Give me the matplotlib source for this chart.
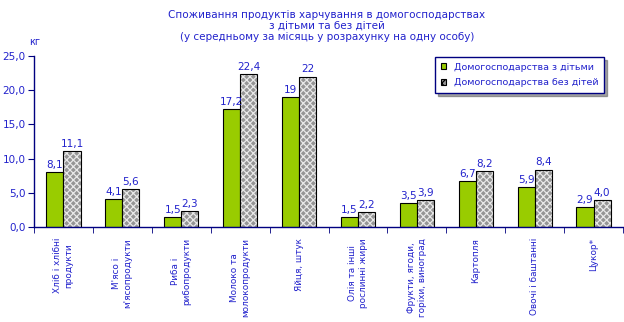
import numpy as np
import matplotlib
matplotlib.use("Agg")
import matplotlib.pyplot as plt
from matplotlib.patches import Patch

categories = ["Хліб і хлібні\nпродукти", "М'ясо і\nм'ясопродукти", "Риба і\nрибопродукти",
              "Молоко та\nмолокопродукти", "Яйця, штук", "Олія та інші\nрослинні жири",
              "Фрукти, ягоди,\nгоріхи, виноград", "Картопля", "Овочі і баштанні", "Цукор*"]
with_kids = [8.1, 4.1, 1.5, 17.2, 19, 1.5, 3.5, 6.7, 5.9, 2.9]
without_kids = [11.1, 5.6, 2.3, 22.4, 22, 2.2, 3.9, 8.2, 8.4, 4.0]
labels_with = ["8,1", "4,1", "1,5", "17,2", "19", "1,5", "3,5", "6,7", "5,9", "2,9"]
labels_without = ["11,1", "5,6", "2,3", "22,4", "22", "2,2", "3,9", "8,2", "8,4", "4,0"]
yticks = [0, 5, 10, 15, 20, 25]
ytick_labels = ["0,0", "5,0", "10,0", "15,0", "20,0", "25,0"]

blue = "#2222CC"
navy = "#000080"
plt.rcParams['font.family'] = ['DejaVu Sans']
plt.rcParams['hatch.linewidth'] = 0.9

fig = plt.figure(figsize=(6.24, 3.22), dpi=100)
ax = fig.add_axes([34/624, 1-227/322, 589/624, 171/322])

x = np.arange(len(categories))
w = 0.29
ax.bar(x - w/2, with_kids, w, color="#99CC00", edgecolor="black", linewidth=0.8, zorder=2)
# hatched bars: white hatch on grey, then black outline on top
ax.bar(x + w/2, without_kids, w, color="#959595", edgecolor="#e8e8e8", hatch="xxxxx",
       linewidth=0, zorder=2)
ax.bar(x + w/2, without_kids, w, fill=False, edgecolor="black", linewidth=0.8, zorder=3)

for i in range(len(x)):
    ax.text(x[i] - w/2, with_kids[i] + 0.3, labels_with[i], ha="center", va="bottom",
            color=blue, fontsize=7.5)
    ax.text(x[i] + w/2, without_kids[i] + 0.3, labels_without[i], ha="center", va="bottom",
            color=blue, fontsize=7.5)

ax.set_xlim(-0.5, len(x) - 0.5)
ax.set_ylim(0, 25)
ax.set_yticks(yticks, labels=ytick_labels)
ax.set_xticks(x, labels=categories, rotation=90, va="top", ha="center",
              multialignment="center", linespacing=1.3)
ax.set_xticks(np.arange(len(x) + 1) - 0.5, minor=True)
ax.tick_params(axis="x", which="major", length=0, pad=8, labelsize=6.4, labelcolor=blue)
ax.tick_params(axis="x", which="minor", length=4, color=navy, direction="out")
ax.tick_params(axis="y", length=4, color=navy, labelsize=7.5, labelcolor=blue, pad=2)

for s in ["top", "right"]:
    ax.spines[s].set_visible(False)
for s in ["left", "bottom"]:
    ax.spines[s].set_color(navy)
    ax.spines[s].set_linewidth(1)

fig.text(35/624, 1-42/322, "кг", color=blue, fontsize=7, ha="center", va="center")
fig.text(327/624, 1-26/322,
         "Споживання продуктів харчування в домогосподарствах\nз дітьми та без дітей\n"
         "(у середньому за місяць у розрахунку на одну особу)",
         color=blue, fontsize=7.5, ha="center", va="center", linespacing=1.15)

handles = [Patch(facecolor="#99CC00", edgecolor="black", linewidth=0.8),
           Patch(facecolor="#959595", edgecolor="black", hatch="xxxx", linewidth=0.8)]
leg = fig.legend(handles, ["Домогосподарства з дітьми", "Домогосподарства без дітей"],
                 loc="upper left", bbox_to_anchor=(435/624, 1-57/322), fontsize=6.8,
                 frameon=True, fancybox=False, shadow=True, labelcolor=blue,
                 handlelength=0.6, handleheight=0.6, handletextpad=0.8,
                 borderpad=0.6, labelspacing=0.7, borderaxespad=0)
leg.get_frame().set_edgecolor(navy)
leg.get_frame().set_linewidth(1)

fig.savefig("out.png", dpi=100)
